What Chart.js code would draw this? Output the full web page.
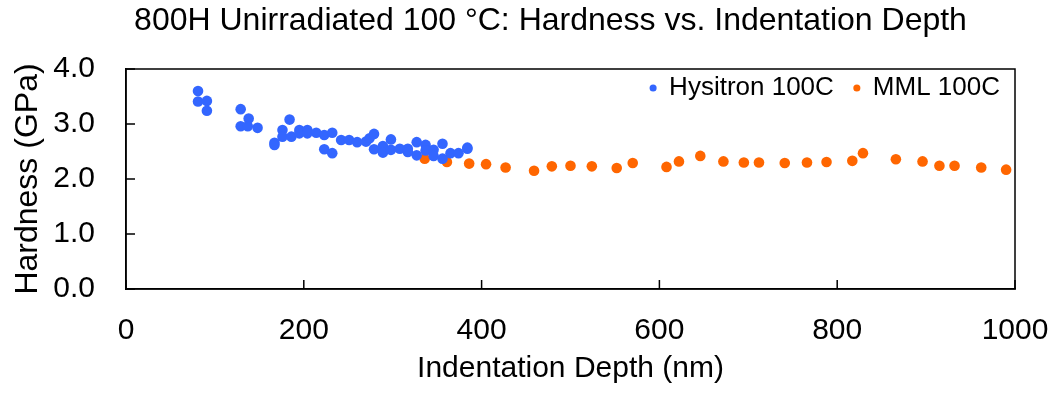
<!DOCTYPE html>
<html>
<head>
<meta charset="utf-8">
<script src="https://cdn.jsdelivr.net/npm/chart.js@4"></script>
<style>
  html, body { margin: 0; padding: 0; background: #fff; }
  #wrap { width: 1056px; height: 400px; }
</style>
</head>
<body>
<div id="wrap"><canvas id="hardness"></canvas></div>
<script>
// Hysitron 100C (depth nm, hardness GPa)
const hysDepth = [81, 81, 91, 91, 129, 129, 138, 137, 148, 167, 167, 176, 176, 184, 186, 195, 195, 204, 204, 214,
  223, 223, 232, 232, 242, 251, 260, 270, 274, 279, 279, 289, 289, 298, 298, 308, 317, 317, 327, 327,
  337, 337, 346, 346, 356, 356, 365, 374, 384, 384];
const hysHard = [3.60, 3.41, 3.42, 3.24, 3.27, 2.96, 3.10, 2.96, 2.93, 2.66, 2.62, 2.89, 2.77, 3.08, 2.77, 2.89, 2.83, 2.89, 2.83, 2.84,
  2.80, 2.54, 2.84, 2.47, 2.71, 2.71, 2.67, 2.68, 2.74, 2.82, 2.54, 2.60, 2.48, 2.72, 2.53, 2.55, 2.55, 2.49, 2.67, 2.43,
  2.62, 2.52, 2.53, 2.42, 2.64, 2.37, 2.47, 2.47, 2.57, 2.55];

// MML 100C
const mmlDepth = [336, 361, 386, 405, 427, 459, 479, 500, 524, 552, 570, 608, 622, 646, 672, 695, 712, 741, 766, 788,
  817, 829, 866, 896, 915, 932, 962, 990];
const mmlHard = [2.37, 2.31, 2.28, 2.27, 2.21, 2.15, 2.23, 2.24, 2.23, 2.20, 2.29, 2.22, 2.32, 2.42, 2.32, 2.30, 2.30, 2.29, 2.30, 2.31,
  2.33, 2.47, 2.36, 2.32, 2.24, 2.24, 2.21, 2.17];

const xTicks = [0, 200, 400, 600, 800, 1000];
const yTicks = [0, 1, 2, 3, 4];

const FONT = '"Liberation Sans", Arial, Helvetica, sans-serif';

function toPoints(xs, ys) {
  return xs.map((x, i) => ({ x: x, y: ys[i] }));
}

// legend takes no room at the top, it gets moved into the plot after layout
const placeLegend = {
  id: 'placeLegend',
  beforeLayout(chart) {
    const lg = chart.legend;
    if (!lg || lg._patched) return;
    const fit = lg.fit;
    lg.fit = function () {
      fit.call(this);
      this._fullH = this.height;
      this.height = 0;
    };
    lg._patched = true;
  },
  afterLayout(chart) {
    const lg = chart.legend;
    const a = chart.chartArea;
    lg.top = a.top - 14;
    lg.height = lg._fullH;
    lg.bottom = lg.top + lg.height;
    lg.right = a.right + 5;
    // title sits a bit right of the canvas centre in the original
    if (chart.titleBlock) {
      chart.titleBlock.left += 43;
      chart.titleBlock.right += 43;
    }
  }
};

// box around plot + inside tick marks
const frame = {
  id: 'frame',
  afterDraw(chart) {
    const { ctx, chartArea: a, scales } = chart;
    ctx.save();
    ctx.strokeStyle = '#000';
    ctx.lineWidth = 1.5;
    ctx.strokeRect(a.left, a.top, a.right - a.left, a.bottom - a.top);
    ctx.beginPath();
    xTicks.forEach(v => {
      const px = scales.x.getPixelForValue(v);
      ctx.moveTo(px, a.bottom);
      ctx.lineTo(px, a.bottom - 9);
    });
    yTicks.forEach(v => {
      const py = scales.y.getPixelForValue(v);
      ctx.moveTo(a.left, py);
      ctx.lineTo(a.left + 9, py);
    });
    ctx.stroke();
    ctx.restore();
  }
};

const ctx = document.getElementById('hardness').getContext('2d');
const chart = new Chart(ctx, {
  type: 'scatter',
  data: {
    datasets: [{
      label: 'Hysitron 100C',
      data: toPoints(hysDepth, hysHard),
      backgroundColor: '#3366ff',
      borderWidth: 0,
      pointRadius: 5.3
    }, {
      label: 'MML 100C',
      data: toPoints(mmlDepth, mmlHard),
      backgroundColor: '#ff6600',
      borderWidth: 0,
      pointRadius: 5.3
    }]
  },
  options: {
    responsive: true,
    maintainAspectRatio: false,
    animation: false,
    layout: { padding: { left: 0, right: 41, top: 0, bottom: 0 } },
    plugins: {
      title: {
        display: true,
        text: '800H Unirradiated 100 °C: Hardness vs. Indentation Depth',
        color: '#000',
        font: { family: FONT, size: 32, weight: 'normal' },
        padding: { top: 2, bottom: 28.6 }
      },
      legend: {
        position: 'top',
        align: 'end',
        labels: {
          usePointStyle: true,
          pointStyle: 'circle',
          boxWidth: 6,
          boxHeight: 5,
          padding: 20,
          color: '#000',
          font: { family: FONT, size: 26 }
        }
      },
      tooltip: { enabled: false }
    },
    scales: {
      x: {
        type: 'linear',
        min: 0,
        max: 1000,
        afterFit: s => { s.height = 111; s.paddingLeft = 0; s.paddingRight = 0; },
        afterBuildTicks: s => { s.ticks = xTicks.map(v => ({ value: v })); },
        grid: { display: false, drawTicks: false },
        border: { color: '#000', width: 1.5 },
        ticks: {
          padding: 24,
          color: '#000',
          font: { family: FONT, size: 30 },
          maxRotation: 0,
          callback: v => String(v)
        },
        title: {
          display: true,
          text: 'Indentation Depth (nm)',
          color: '#000',
          font: { family: FONT, size: 30 },
          padding: { top: 0, bottom: 13 }
        }
      },
      y: {
        min: 0,
        max: 4,
        afterFit: s => { s.width = 126; s.paddingTop = 0; s.paddingBottom = 0; },
        afterBuildTicks: s => { s.ticks = yTicks.map(v => ({ value: v })); },
        grid: { display: false, drawTicks: false },
        border: { color: '#000', width: 1.5 },
        ticks: {
          padding: 31,
          color: '#000',
          font: { family: FONT, size: 30 },
          callback: v => Number(v).toFixed(1)
        },
        title: {
          display: true,
          text: 'Hardness (GPa)',
          color: '#000',
          font: { family: FONT, size: 32 },
          padding: { top: 9, bottom: 0 }
        }
      }
    }
  },
  plugins: [placeLegend, frame]
});
</script>
</body>
</html>
